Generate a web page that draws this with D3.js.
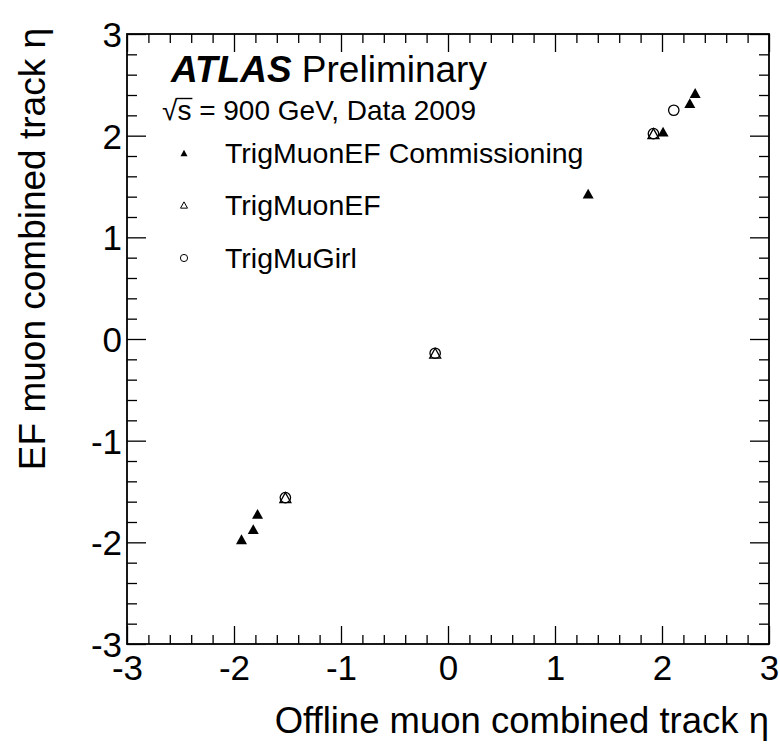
<!DOCTYPE html>
<html><head><meta charset="utf-8">
<script src="https://cdn.jsdelivr.net/npm/d3@7/dist/d3.min.js"></script>
<style>
body{margin:0;background:#fff;}
text{font-family:"Liberation Sans",Arial,Helvetica,sans-serif;fill:#000;}
</style></head>
<body>
<svg id="c" width="780" height="748"></svg>
<script>
// ---- data ----
const commX = [-1.93, -1.82, -1.78, 1.31, 2.01, 2.26, 2.31];
const commY = [-1.97, -1.87, -1.72, 1.43, 2.04, 2.32, 2.42];
const efX   = [-1.52, -0.12, 1.92];
const efY   = [-1.56, -0.14, 2.02];
const girlX = [-1.52, -0.12, 1.92, 2.11];
const girlY = [-1.56, -0.14, 2.02, 2.25];
const xTicks = [-3, -2, -1, 0, 1, 2, 3];
const yTicks = [-3, -2, -1, 0, 1, 2, 3];
const legendLabels = ["TrigMuonEF Commissioning", "TrigMuonEF", "TrigMuGirl"];
const xTitle = "Offline muon combined track \u03B7";
const yTitle = "EF muon combined track \u03B7";

const svg = d3.select("#c");
const L = 127, R = 769, T = 34, B = 644;
const x = d3.scaleLinear().domain([-3, 3]).range([L, R]);
const y = d3.scaleLinear().domain([-3, 3]).range([B, T]);
const fmt = d => String(d);

const minorVals = d3.range(-3, 3.0001, 0.2).map(v => +v.toFixed(2)).filter(v => Math.abs(v - Math.round(v)) > 1e-6);

function styleAxis(g){ g.select(".domain").remove(); g.selectAll("line").attr("stroke","#000").attr("stroke-width",1.3); }

// bottom
svg.append("g").attr("transform",`translate(0,${B})`)
  .call(d3.axisBottom(x).tickValues(minorVals).tickSize(-9).tickFormat("")).call(styleAxis);
const bx = svg.append("g").attr("transform",`translate(0,${B})`)
  .call(d3.axisBottom(x).tickValues(xTicks).tickSize(-18).tickPadding(11).tickFormat(fmt)).call(styleAxis);
bx.selectAll("text").attr("font-size",35).attr("font-family","Liberation Sans, Arial, sans-serif").attr("dy","0.71em");
// top
svg.append("g").attr("transform",`translate(0,${T})`)
  .call(d3.axisTop(x).tickValues(minorVals).tickSize(-9).tickFormat("")).call(styleAxis);
svg.append("g").attr("transform",`translate(0,${T})`)
  .call(d3.axisTop(x).tickValues(xTicks).tickSize(-18).tickFormat("")).call(styleAxis);
// left
svg.append("g").attr("transform",`translate(${L},0)`)
  .call(d3.axisLeft(y).tickValues(minorVals).tickSize(-10).tickFormat("")).call(styleAxis);
const ly = svg.append("g").attr("transform",`translate(${L},0)`)
  .call(d3.axisLeft(y).tickValues(yTicks).tickSize(-19).tickPadding(5).tickFormat(fmt)).call(styleAxis);
ly.selectAll("text").attr("font-size",35).attr("font-family","Liberation Sans, Arial, sans-serif").attr("dy","0.36em");
// right
svg.append("g").attr("transform",`translate(${R},0)`)
  .call(d3.axisRight(y).tickValues(minorVals).tickSize(-10).tickFormat("")).call(styleAxis);
svg.append("g").attr("transform",`translate(${R},0)`)
  .call(d3.axisRight(y).tickValues(yTicks).tickSize(-19).tickFormat("")).call(styleAxis);

// frame
svg.append("rect").attr("x",L).attr("y",T).attr("width",R-L).attr("height",B-T)
  .attr("fill","none").attr("stroke","#000").attr("stroke-width",1.8);

// axis titles
svg.append("text").attr("x",R).attr("y",733).attr("text-anchor","end")
  .attr("font-size",36.5).text(xTitle);
svg.append("text").attr("transform","translate(45,28) rotate(-90)").attr("text-anchor","end")
  .attr("font-size",37).text(yTitle);

// markers
function triPath(s){
  const h = s*0.9, w = s;
  return `M0,${-h/2}L${w/2},${h/2}L${-w/2},${h/2}Z`;
}
const gp = svg.append("g");
gp.selectAll(".girl").data(d3.range(girlX.length)).join("circle")
  .attr("cx",i=>x(girlX[i])).attr("cy",i=>y(girlY[i])).attr("r",5.2)
  .attr("fill","none").attr("stroke","#000").attr("stroke-width",1.3);
gp.selectAll(".ef").data(d3.range(efX.length)).join("path")
  .attr("transform",i=>`translate(${x(efX[i])},${y(efY[i])})`).attr("d",triPath(11))
  .attr("fill","none").attr("stroke","#000").attr("stroke-width",1.3);
gp.selectAll(".comm").data(d3.range(commX.length)).join("path")
  .attr("transform",i=>`translate(${x(commX[i])},${y(commY[i])})`).attr("d",triPath(11))
  .attr("fill","#000");

// ATLAS Preliminary
const at = svg.append("text").attr("x",171).attr("y",82).attr("font-size",37);
at.append("tspan").attr("font-weight","bold").attr("font-style","italic").text("ATLAS");
at.append("tspan").text(" Preliminary");

// sqrt(s) line
const sq = svg.append("text").attr("x",162).attr("y",120).attr("font-size",28);
sq.append("tspan").text("\u221A");
sq.append("tspan").text("s");
sq.append("tspan").text(" = 900 GeV, Data 2009");
const sn = sq.node();
const s0 = sn.getStartPositionOfChar(1), s1 = sn.getEndPositionOfChar(1);
svg.append("line").attr("x1",s0.x-1).attr("x2",s1.x+1).attr("y1",120-21.5).attr("y2",120-21.5)
  .attr("stroke","#000").attr("stroke-width",1.4);

// legend
const legY = [153, 205, 258];
const lg = svg.append("g");
legendLabels.forEach((lab,i)=>{
  lg.append("text").attr("x",225).attr("y",legY[i]).attr("dy","0.35em").attr("font-size",28.5).text(lab);
});
lg.append("path").attr("transform",`translate(184,${legY[0]})`).attr("d",triPath(7)).attr("fill","#000");
lg.append("path").attr("transform",`translate(184,${legY[1]})`).attr("d",triPath(7))
  .attr("fill","none").attr("stroke","#000").attr("stroke-width",1);
lg.append("circle").attr("cx",184).attr("cy",legY[2]).attr("r",3.6)
  .attr("fill","none").attr("stroke","#000").attr("stroke-width",1);
</script>
</body></html>
